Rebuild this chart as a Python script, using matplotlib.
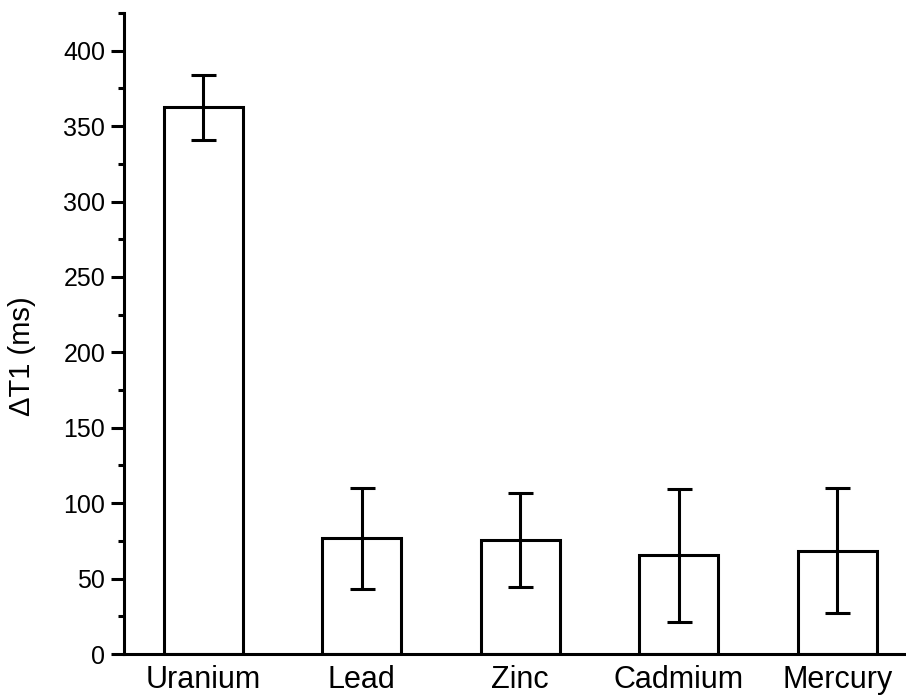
import matplotlib.pyplot as plt
import numpy as np

# Data
metals = ["Uranium", "Lead", "Zinc", "Cadmium", "Mercury"]
delta_t1 = [362.5, 76.7, 75.6, 65.4, 68.5]
errors = [21.7, 33.5, 31.4, 43.9, 41.5]

plt.rcParams['font.family'] = ['Liberation Sans', 'DejaVu Sans']

fig = plt.figure(figsize=(9.06, 6.96), dpi=100)
ax = fig.add_axes([124 / 906, 42 / 696, 782 / 906, 641 / 696])

x = np.arange(1, len(metals) + 1)
ax.bar(x, delta_t1, width=0.5, color="white", edgecolor="black", linewidth=2.2, zorder=2)
ax.errorbar(x, delta_t1, yerr=errors, fmt="none", ecolor="black", elinewidth=2.2,
            capsize=9, capthick=2.2, zorder=3)

ax.set_xlim(0.5, 0.5 + 782 / 158.5)
ax.set_ylim(0, 425)
ax.set_xticks(x)
ax.set_xticklabels(metals, fontsize=22)
ax.set_yticks(np.arange(0, 401, 50))
ax.set_yticks(np.arange(25, 426, 50), minor=True)
ax.tick_params(axis="y", which="major", direction="out", length=9.5, width=2.2, labelsize=18, pad=4)
ax.tick_params(axis="y", which="minor", direction="out", length=4.5, width=2.2)
ax.tick_params(axis="x", which="both", length=0, pad=8)

for side in ["top", "right"]:
    ax.spines[side].set_visible(False)
for side in ["left", "bottom"]:
    ax.spines[side].set_linewidth(2.2)

ax.set_ylabel("ΔT1 (ms)", fontsize=21)
ax.yaxis.set_label_coords(-0.113, 0.465)

fig.savefig("out.png", dpi=100)
